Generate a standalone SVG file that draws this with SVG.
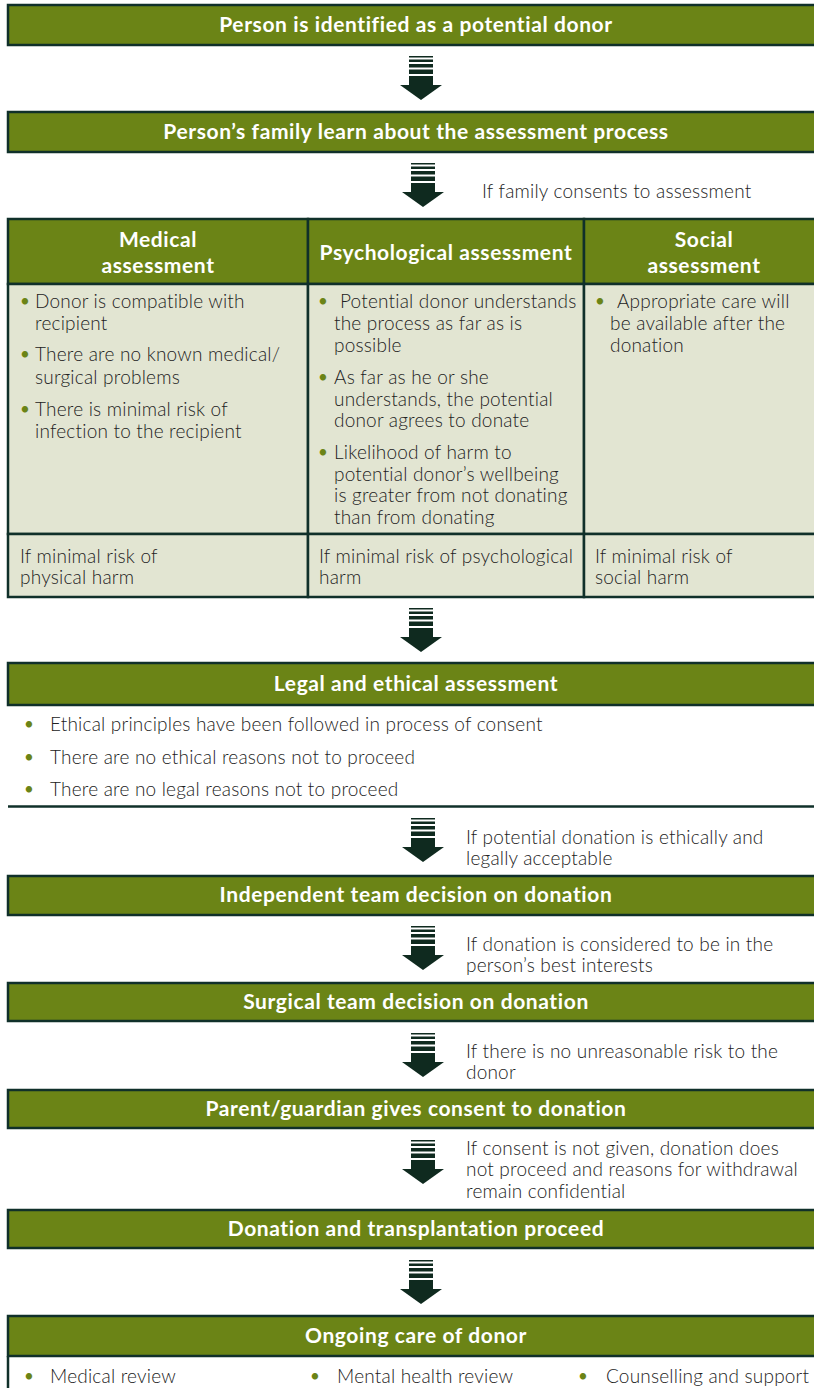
<svg xmlns="http://www.w3.org/2000/svg" width="814" height="1388" viewBox="0 0 814 1388">
<style>
.bar{fill:#6b8416;stroke:#10302a;stroke-width:2.5}
.ttl{font-family:Lato,"Liberation Sans",sans-serif;font-weight:bold;font-size:21px;letter-spacing:0.6px;fill:#ffffff;text-anchor:middle}
.txt{font-family:Lato,"Liberation Sans",sans-serif;font-weight:300;font-size:19px;letter-spacing:0.2px;fill:#222222}
.bul{font-family:Lato,"Liberation Sans",sans-serif;font-size:17px;fill:#6b8416}
.cell{fill:#e2e5d2;stroke:#10302a;stroke-width:2.5}
.hcell{fill:#6b8416;stroke:#10302a;stroke-width:2.5}
.arw{fill:#0f2a1f}
</style>
<defs>
<g id="arrow">
<rect class="arw" x="-12" y="0" width="24" height="1.5"/>
<rect class="arw" x="-12" y="3.5" width="24" height="2.5"/>
<rect class="arw" x="-12" y="8" width="24" height="3.5"/>
<rect class="arw" x="-12" y="13.5" width="24" height="4.5"/>
<rect class="arw" x="-12" y="20" width="24" height="9.5"/>
<polygon class="arw" points="-21,29 21,29 0,44"/>
</g>
</defs>
<rect width="814" height="1388" fill="#ffffff"/>

<g id="connectors">
<use href="#arrow" x="421" y="56"/>
<use href="#arrow" x="423" y="163"/>
<use href="#arrow" x="421" y="608"/>
<use href="#arrow" x="423" y="818"/>
<use href="#arrow" x="423" y="926"/>
<use href="#arrow" x="423" y="1033"/>
<use href="#arrow" x="423" y="1140"/>
<use href="#arrow" x="421" y="1260"/>
<text class="txt" x="482" y="198">If family consents to assessment</text>
<text class="txt" x="466" y="844">If potential donation is ethically and</text>
<text class="txt" x="466" y="865">legally acceptable</text>
<text class="txt" x="466" y="951">If donation is considered to be in the</text>
<text class="txt" x="466" y="972">person’s best interests</text>
<text class="txt" x="466" y="1058">If there is no unreasonable risk to the</text>
<text class="txt" x="466" y="1079">donor</text>
<text class="txt" x="466" y="1155">If consent is not given, donation does</text>
<text class="txt" x="466" y="1176">not proceed and reasons for withdrawal</text>
<text class="txt" x="466" y="1198">remain confidential</text>
</g>

<g id="n1">
<rect class="bar" x="8" y="5" width="820" height="40"/>
<text class="ttl" x="416" y="32">Person is identified as a potential donor</text>
</g>

<g id="n2">
<rect class="bar" x="8" y="112" width="820" height="40"/>
<text class="ttl" x="416" y="139">Person’s family learn about the assessment process</text>
</g>

<g id="n3-table">
<rect class="hcell" x="8" y="219" width="300" height="65"/>
<rect class="hcell" x="308" y="219" width="276" height="65"/>
<rect class="hcell" x="584" y="219" width="240" height="65"/>
<rect class="cell" x="8" y="284" width="300" height="250"/>
<rect class="cell" x="308" y="284" width="276" height="250"/>
<rect class="cell" x="584" y="284" width="240" height="250"/>
<rect class="cell" x="8" y="534" width="300" height="63"/>
<rect class="cell" x="308" y="534" width="276" height="63"/>
<rect class="cell" x="584" y="534" width="240" height="63"/>

<text class="ttl" x="158" y="247">Medical</text>
<text class="ttl" x="158" y="273">assessment</text>
<text class="ttl" x="446" y="260">Psychological assessment</text>
<text class="ttl" x="704" y="247">Social</text>
<text class="ttl" x="704" y="273">assessment</text>

<text class="bul" x="20" y="307">•</text>
<text class="txt" x="35" y="308">Donor is compatible with</text>
<text class="txt" x="35" y="330">recipient</text>
<text class="bul" x="20" y="360">•</text>
<text class="txt" x="35" y="361">There are no known medical/</text>
<text class="txt" x="35" y="384">surgical problems</text>
<text class="bul" x="20" y="415">•</text>
<text class="txt" x="35" y="416">There is minimal risk of</text>
<text class="txt" x="35" y="438">infection to the recipient</text>

<text class="bul" x="318" y="307">•</text>
<text class="txt" x="340" y="308">Potential donor understands</text>
<text class="txt" x="334" y="330">the process as far as is</text>
<text class="txt" x="334" y="352">possible</text>
<text class="bul" x="318" y="383">•</text>
<text class="txt" x="334" y="384">As far as he or she</text>
<text class="txt" x="334" y="406">understands, the potential</text>
<text class="txt" x="334" y="427">donor agrees to donate</text>
<text class="bul" x="318" y="458">•</text>
<text class="txt" x="334" y="459">Likelihood of harm to</text>
<text class="txt" x="334" y="481">potential donor’s wellbeing</text>
<text class="txt" x="334" y="502">is greater from not donating</text>
<text class="txt" x="334" y="524">than from donating</text>

<text class="bul" x="595" y="307">•</text>
<text class="txt" x="617" y="308">Appropriate care will</text>
<text class="txt" x="610" y="330">be available after the</text>
<text class="txt" x="610" y="352">donation</text>

<text class="txt" x="20" y="563">If minimal risk of</text>
<text class="txt" x="20" y="584">physical harm</text>
<text class="txt" x="319" y="563">If minimal risk of psychological</text>
<text class="txt" x="319" y="584">harm</text>
<text class="txt" x="595" y="563">If minimal risk of</text>
<text class="txt" x="595" y="584">social harm</text>
</g>

<g id="n4">
<rect class="bar" x="8" y="663" width="820" height="42"/>
<text class="ttl" x="416" y="691">Legal and ethical assessment</text>
<text class="bul" x="24" y="730">•</text>
<text class="txt" x="50" y="731">Ethical principles have been followed in process of consent</text>
<text class="bul" x="24" y="763">•</text>
<text class="txt" x="50" y="764">There are no ethical reasons not to proceed</text>
<text class="bul" x="24" y="795">•</text>
<text class="txt" x="50" y="796">There are no legal reasons not to proceed</text>
<line x1="8" y1="806.5" x2="814" y2="806.5" stroke="#10302a" stroke-width="2.5"/>
</g>

<g id="n5">
<rect class="bar" x="8" y="876" width="820" height="39"/>
<text class="ttl" x="416" y="902">Independent team decision on donation</text>
</g>

<g id="n6">
<rect class="bar" x="8" y="983" width="820" height="38"/>
<text class="ttl" x="416" y="1009">Surgical team decision on donation</text>
</g>

<g id="n7">
<rect class="bar" x="8" y="1090" width="820" height="38"/>
<text class="ttl" x="416" y="1116">Parent/guardian gives consent to donation</text>
</g>

<g id="n8">
<rect class="bar" x="8" y="1210" width="820" height="38"/>
<text class="ttl" x="416" y="1236">Donation and transplantation proceed</text>
</g>

<g id="n9">
<rect class="bar" x="8" y="1316" width="820" height="40"/>
<line x1="8" y1="1356" x2="8" y2="1390" stroke="#10302a" stroke-width="2.5"/>
<text class="ttl" x="416" y="1343">Ongoing care of donor</text>
<text class="bul" x="24" y="1382">•</text>
<text class="txt" x="50" y="1383">Medical review</text>
<text class="bul" x="310" y="1382">•</text>
<text class="txt" x="337" y="1383">Mental health review</text>
<text class="bul" x="578" y="1382">•</text>
<text class="txt" x="606" y="1383">Counselling and support</text>
</g>
</svg>
